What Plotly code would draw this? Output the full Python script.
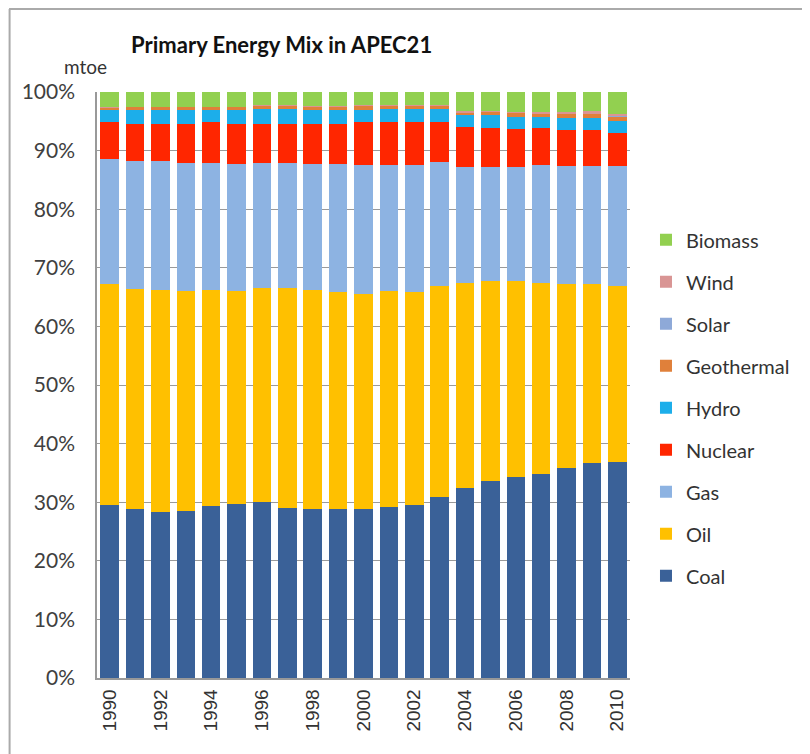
import plotly.graph_objects as go

years = list(range(1990, 2011))

coal = [29.5, 28.8, 28.4, 28.5, 29.4, 29.7, 30.0, 29.1, 28.8, 28.9, 28.8,
        29.2, 29.5, 31.0, 32.5, 33.7, 34.3, 34.9, 36.0, 36.8, 37.1]
oil = [37.7, 37.7, 37.9, 37.5, 36.8, 36.3, 36.6, 37.5, 37.4, 37.0, 36.8,
       36.9, 36.5, 35.9, 35.0, 34.1, 33.5, 32.6, 31.5, 30.6, 30.1]
gas = [21.4, 21.8, 22.0, 22.0, 21.8, 21.7, 21.4, 21.4, 21.5, 21.8, 22.1,
       21.6, 21.7, 21.3, 19.9, 19.6, 19.6, 20.2, 20.2, 20.3, 20.5]
nuclear = [6.4, 6.3, 6.3, 6.6, 7.0, 6.9, 6.6, 6.6, 6.9, 6.9, 7.3,
           7.3, 7.3, 6.8, 6.7, 6.7, 6.4, 6.4, 6.1, 6.1, 5.7]
hydro = [1.9, 2.4, 2.4, 2.4, 2.0, 2.4, 2.6, 2.6, 2.4, 2.4, 2.0,
         2.2, 2.2, 2.2, 2.1, 2.1, 2.2, 1.9, 2.1, 2.1, 2.1]
geothermal = [0.5, 0.5, 0.5, 0.5, 0.5, 0.5, 0.5, 0.5, 0.6, 0.6, 0.7,
              0.6, 0.6, 0.6, 0.5, 0.6, 0.6, 0.6, 0.7, 0.8, 0.8]
solar = [0.02, 0.02, 0.02, 0.02, 0.02, 0.02, 0.02, 0.02, 0.02, 0.02, 0.02,
         0.02, 0.02, 0.02, 0.03, 0.03, 0.03, 0.04, 0.05, 0.06, 0.08]
wind = [0.03, 0.03, 0.03, 0.03, 0.03, 0.04, 0.04, 0.05, 0.05, 0.06, 0.07,
        0.08, 0.09, 0.1, 0.12, 0.14, 0.16, 0.2, 0.25, 0.3, 0.35]
biomass = [2.6, 2.5, 2.5, 2.5, 2.5, 2.5, 2.3, 2.3, 2.4, 2.4, 2.3,
           2.2, 2.2, 2.2, 3.3, 3.2, 3.4, 3.4, 3.4, 3.3, 3.7]

series = [
    ("Coal", coal, "#3A6198"),
    ("Oil", oil, "#FFC000"),
    ("Gas", gas, "#8DB3E2"),
    ("Nuclear", nuclear, "#FF2600"),
    ("Hydro", hydro, "#1CAEEA"),
    ("Geothermal", geothermal, "#E0803A"),
    ("Solar", solar, "#8EA9D8"),
    ("Wind", wind, "#D99594"),
    ("Biomass", biomass, "#92D050"),
]

fig = go.Figure()
for i, (name, vals, color) in enumerate(series):
    fig.add_trace(go.Bar(x=years, y=vals, name=name, legendgroup=name,
                         legendrank=100 - i,
                         marker=dict(color=color, line=dict(width=0))))

font = "Lato, Open Sans, sans-serif"
fig.update_layout(
    width=810, height=754,
    barmode="stack", barnorm="percent", bargap=0.27,
    plot_bgcolor="white", paper_bgcolor="white",
    margin=dict(l=89, r=188, t=84, b=84),
    font=dict(family=font, size=20, color="#404040"),
    title=dict(text="<b>Primary Energy Mix in APEC21</b>", x=0.152, xanchor="left",
               y=0.951, yanchor="middle",
               font=dict(family=font, size=22, color="#111111")),
    legend=dict(x=1.03, y=0.781, xanchor="left", yanchor="top",
                traceorder="grouped", tracegroupgap=13,
                font=dict(family=font, size=20, color="#333333")),
    showlegend=True,
)
fig.update_xaxes(tickvals=list(range(1990, 2011, 2)), tickangle=-90,
                 showline=True, linecolor="#999999", linewidth=1.5,
                 range=[1989.5, 2010.5], ticks="outside", ticklen=2,
                 tickcolor="white", automargin=False,
                 tickfont=dict(family="Liberation Sans, Arial, sans-serif",
                               size=19, color="#333333"))
fig.update_yaxes(range=[0, 100], dtick=10, ticksuffix="%",
                 showgrid=True, gridcolor="#9a9a9a", gridwidth=1,
                 showline=True, linecolor="#999999", linewidth=1.5,
                 ticks="outside", ticklen=16, tickcolor="white", zeroline=False,
                 automargin=False,
                 tickfont=dict(family=font, size=21, color="#404040"))

fig.add_annotation(text="mtoe", xref="paper", yref="paper", x=-0.0225, y=1.0,
                   xanchor="center", yanchor="bottom", yshift=12, showarrow=False,
                   font=dict(family=font, size=19, color="#333333"))

# chart frame (top and left edges)
fig.add_shape(type="line", xref="paper", yref="paper", x0=-0.165, x1=1.4,
              y0=1.1416, y1=1.1416, line=dict(color="#aaaaaa", width=2))
fig.add_shape(type="line", xref="paper", yref="paper", x0=-0.164, x1=-0.164,
              y0=-0.2, y1=1.1416, line=dict(color="#aaaaaa", width=2))

fig.write_html("out.html")
